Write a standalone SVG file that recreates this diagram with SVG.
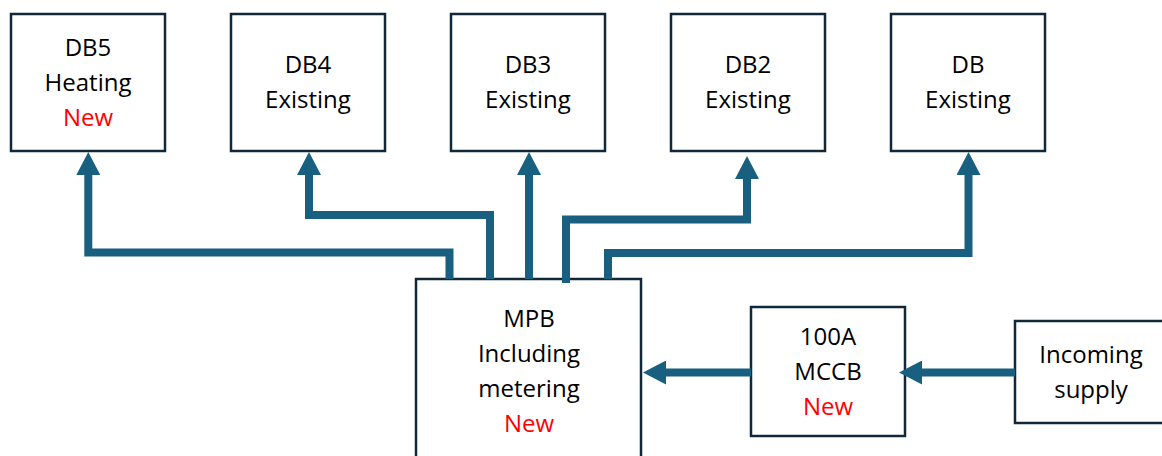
<svg xmlns="http://www.w3.org/2000/svg" width="1162" height="456" viewBox="0 0 1162 456">
<style>
.box{fill:#fff;stroke:#10283a;stroke-width:2.5}
.t{font-family:"Open Sans","Liberation Sans",sans-serif;font-size:24px;fill:#000;text-anchor:middle}
.r{fill:#ff0000}
.c{fill:none;stroke:#185f80;stroke-width:8;stroke-linejoin:miter;marker-end:url(#ah)}
</style>
<defs>
<marker id="ah" viewBox="0 0 23 24" markerWidth="23" markerHeight="24" refX="0" refY="12" orient="auto" markerUnits="userSpaceOnUse">
<path d="M0,0 L23,12 L0,24 z" fill="#185f80"/>
</marker>
</defs>
<rect width="1162" height="456" fill="#fff"/>
<g id="db5"><rect class="box" x="11" y="14" width="154" height="137"/>
<text class="t" x="88" y="56">DB5</text><text class="t" x="88" y="91">Heating</text><text class="t r" x="88" y="126">New</text></g>
<g id="db4"><rect class="box" x="231" y="14" width="154" height="137"/>
<text class="t" x="308" y="73">DB4</text><text class="t" x="308" y="108">Existing</text></g>
<g id="db3"><rect class="box" x="451" y="14" width="154" height="137"/>
<text class="t" x="528" y="73">DB3</text><text class="t" x="528" y="108">Existing</text></g>
<g id="db2"><rect class="box" x="671" y="14" width="154" height="137"/>
<text class="t" x="748" y="73">DB2</text><text class="t" x="748" y="108">Existing</text></g>
<g id="db"><rect class="box" x="891" y="14" width="154" height="137"/>
<text class="t" x="968" y="73">DB</text><text class="t" x="968" y="108">Existing</text></g>
<g id="mpb"><rect class="box" x="416" y="279" width="225" height="190"/>
<text class="t" x="529" y="327">MPB</text><text class="t" x="529" y="362">Including</text><text class="t" x="529" y="397">metering</text><text class="t r" x="529" y="432">New</text></g>
<g id="mccb"><rect class="box" x="751" y="307" width="154" height="129"/>
<text class="t" x="828" y="345">100A</text><text class="t" x="828" y="380">MCCB</text><text class="t r" x="828" y="415">New</text></g>
<g id="incoming"><rect class="box" x="1015" y="321" width="150" height="102"/>
<text class="t" x="1091" y="363">Incoming</text><text class="t" x="1091" y="398">supply</text></g>
<g id="connectors">
<path class="c" d="M449.5,279 V252.5 H88.3 V175"/>
<path class="c" d="M490,279 V215 H309 V175"/>
<path class="c" d="M529,279 V175"/>
<path class="c" d="M566,283 V219.5 H747 V179"/>
<path class="c" d="M608,279 V253 H968.5 V175"/>
<path class="c" d="M751,372.5 H666"/>
<path class="c" d="M1015,372.5 H922"/>
</g>
</svg>
